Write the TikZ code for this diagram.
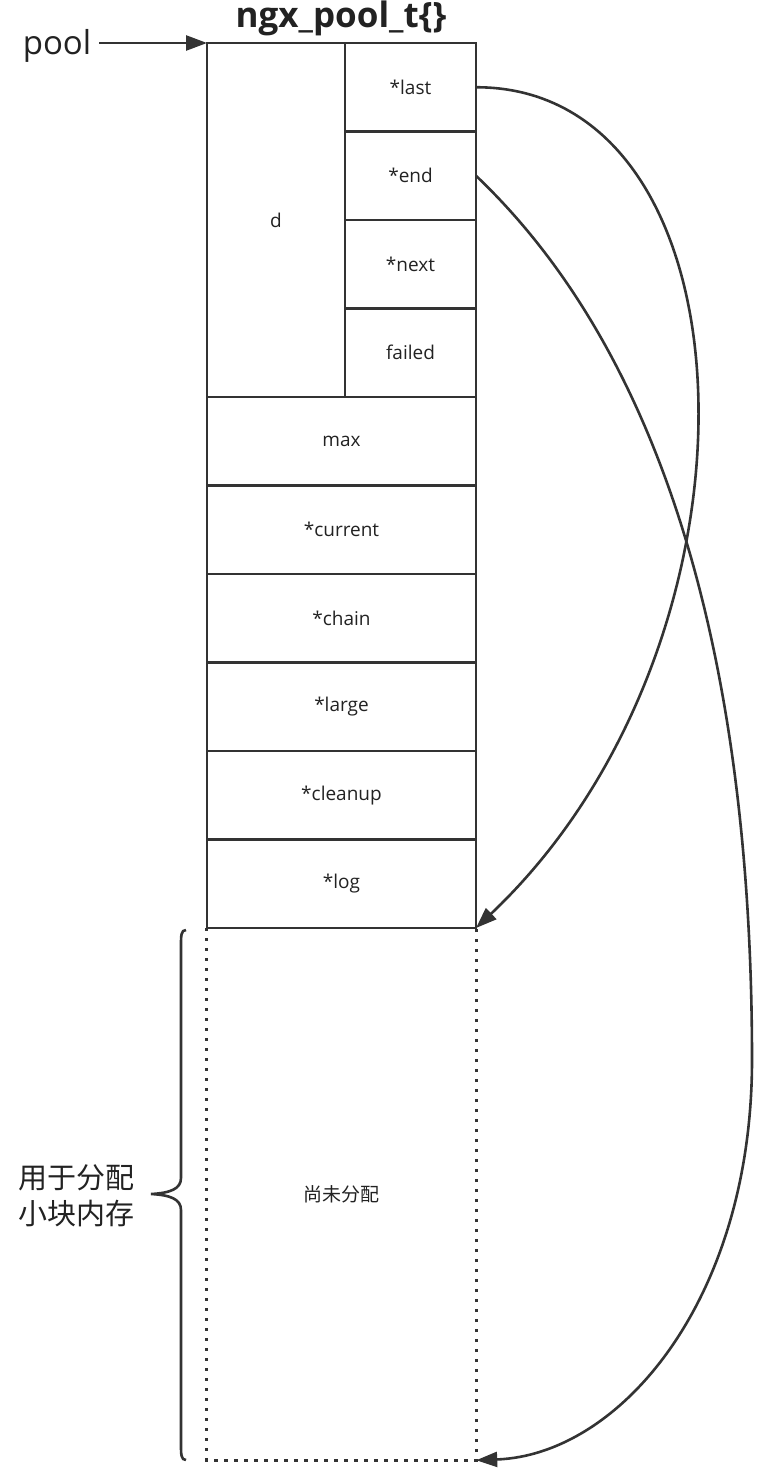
\documentclass[tikz,border=0pt]{standalone}
\usepackage{fontspec}
\setmainfont{Open Sans}
\newfontfamily\cjk{Noto Sans CJK SC}
\usetikzlibrary{arrows.meta}
\definecolor{ink}{HTML}{333333}
\definecolor{txt}{HTML}{222222}
\begin{document}
\begin{tikzpicture}[x=1pt,y=-1pt,
  cell/.style={draw=ink,line width=2.6pt,inner sep=0pt,outer sep=0pt,text=txt,font=\fontsize{19}{22}\selectfont},
  rcell/.style={cell,minimum width=131pt,minimum height=88.5pt},
  fcell/.style={cell,minimum width=269pt,minimum height=88.5pt},
  link/.style={draw=ink,line width=2.6pt,-{Triangle[length=21pt,width=15pt]}},
  dotline/.style={draw=ink,line width=3.2pt,dash pattern=on 3.2pt off 6.8pt}]
\useasboundingbox (0,0) rectangle (768,1478);
\node[cell,minimum width=138pt,minimum height=354pt] (d) at (276,220) {d};
\node[rcell] (last) at (410.5,87.25) {*last};
\node[rcell] (end) at (410.5,175.75) {*end};
\node[rcell] (next) at (410.5,264.25) {*next};
\node[rcell] (failed) at (410.5,352.75) {failed};
\node[fcell] (max) at (341.5,441.25) {max};
\node[fcell] (current) at (341.5,529.75) {*current};
\node[fcell] (chain) at (341.5,618.25) {*chain};
\node[fcell] (large) at (341.5,706.75) {*large};
\node[fcell] (cleanup) at (341.5,795.25) {*cleanup};
\node[fcell] (log) at (341.5,883.75) {*log};
\node[inner sep=0pt,minimum width=269pt,minimum height=532pt,text=txt,font=\cjk\fontsize{19}{22}\selectfont] (free) at (341.5,1194) {尚未分配};
\draw[dotline] (free.north west) -- (free.south west) -- (free.south east) -- (free.north east);
\node[text=txt,font=\bfseries\fontsize{35}{38}\selectfont] (title) at (341,18) {ngx\_pool\_t\{\}};
\node[text=txt,font=\fontsize{33}{36}\selectfont,inner sep=2pt] (pool) at (57,46) {pool};
\draw[link] (pool.east |- d.north west) ++(6,0) -- (d.north west);
\draw[link] (last.east) .. controls (760,87) and (780,640) .. (log.south east);
\draw[link] (end.east) .. controls (680,370) and (752,700) .. (752,1060) .. controls (752,1300) and (620,1455) .. (free.south east);
\draw[draw=ink,line width=2.6pt] (186,930) .. controls (181,930) and (181,936) .. (181,945) -- (181,1178) .. controls (181,1189) and (170,1193) .. (151,1194) .. controls (170,1195) and (181,1199) .. (181,1210) -- (181,1445) .. controls (181,1454) and (181,1460) .. (186,1460);
\node[text=txt,font=\cjk\fontsize{29}{36}\selectfont,align=left,inner sep=0pt] (lbl) at (77,1196) {用于分配\\小块内存};
\end{tikzpicture}
\end{document}
